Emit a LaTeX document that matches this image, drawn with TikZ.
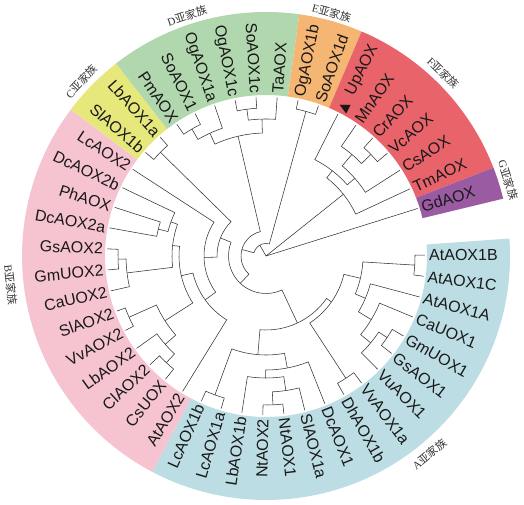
\documentclass[tikz,border=0pt]{standalone}
\usepackage{fontspec}
\setmainfont{Liberation Sans}
\newfontfamily\cjkf{Noto Sans CJK SC}
\newfontfamily\serifL{Liberation Serif}
\newfontfamily\dvs{DejaVu Sans}
\definecolor{cA}{HTML}{BDDDE4}
\definecolor{cB}{HTML}{F6C4D0}
\definecolor{cC}{HTML}{E6E87C}
\definecolor{cD}{HTML}{B1D7AE}
\definecolor{cE}{HTML}{F5B573}
\definecolor{cF}{HTML}{E8636A}
\definecolor{cG}{HTML}{9B5BA3}
% band: colour, start angle, end angle
\newcommand{\band}[3]{\fill[#1] (#2:161pt) arc[start angle=#2,end angle=#3,radius=161pt] -- (#3:244pt) arc[start angle=#3,end angle=#2,radius=244pt] -- cycle;}
% leaves on right / left half
\newcommand{\leafR}[3]{\coordinate (#1) at (#2:159pt);\node[lab,anchor=west,rotate=#2] (#1t) at (#2:163pt) {#3};}
\newcommand{\leafL}[3]{\coordinate (#1) at (#2:159pt);\node[lab,anchor=east,rotate={#2+180}] (#1t) at (#2:163pt) {#3};}
% internal node: radius, angle1, child1, angle2, child2
\newcommand{\tn}[5]{\draw[br] (#3) -- (#2:#1pt) arc[start angle=#2,end angle=#4,radius=#1pt] -- (#5);}
\begin{document}
\begin{tikzpicture}[x=1pt,y=1pt,
  br/.style={line width=0.55pt,draw=black!80,line join=miter},
  lab/.style={font=\fontsize{16}{16}\selectfont,inner sep=0pt,text height=11.5pt,text depth=0pt,text=black!90},
  grp/.style={font=\fontsize{11}{11}\selectfont,inner sep=0pt,text=black!80}]
\useasboundingbox (0,0) rectangle (524,505);
\begin{scope}[shift={(266,249)}]
% ---- coloured bands ----
\band{cA}{-117.81}{4.11}
\band{cB}{-216.87}{-117.81}
\band{cC}{-232.11}{-216.87}
\band{cD}{-277.83}{-232.11}
\band{cE}{-293.07}{-277.83}
\band{cF}{-338.79}{-293.07}
\band{cG}{-346.41}{-338.79}
% ---- leaves ----
\leafR{L0}{0.30}{AtAOX1B}
\leafR{L1}{-7.32}{AtAOX1C}
\leafR{L2}{-14.94}{AtAOX1A}
\leafR{L3}{-22.56}{CaUOX1}
\leafR{L4}{-30.18}{GmUOX1}
\leafR{L5}{-37.80}{GsAOX1}
\leafR{L6}{-45.42}{VuAOX1}
\leafR{L7}{-53.04}{VvAOX1a}
\leafR{L8}{-60.66}{DhAOX1b}
\leafR{L9}{-68.28}{DcAOX1}
\leafR{L10}{-75.90}{SlAOX1a}
\leafR{L11}{-83.52}{NtAOX1}
\leafL{L12}{-91.14}{NtAOX2}
\leafL{L13}{-98.76}{LbAOX1b}
\leafL{L14}{-106.38}{LcAOX1a}
\leafL{L15}{-114.00}{LcAOX1b}
\leafL{L16}{-121.62}{AtAOX2}
\leafL{L17}{-129.24}{CsUOX}
\leafL{L18}{-136.86}{ClAOX2}
\leafL{L19}{-144.48}{LbAOX2}
\leafL{L20}{-152.10}{VvAOX2}
\leafL{L21}{-159.72}{SlAOX2}
\leafL{L22}{-167.34}{CaUOX2}
\leafL{L23}{-174.96}{GmUOX2}
\leafL{L24}{-182.58}{GsAOX2}
\leafL{L25}{-190.20}{DcAOX2a}
\leafL{L26}{-197.82}{PhAOX}
\leafL{L27}{-205.44}{DcAOX2b}
\leafL{L28}{-213.06}{LcAOX2}
\leafL{L29}{-220.68}{SlAOX1b}
\leafL{L30}{-228.30}{LbAOX1a}
\leafL{L31}{-235.92}{PmAOX}
\leafL{L32}{-243.54}{SoAOX1}
\leafL{L33}{-251.16}{OgAOX1a}
\leafL{L34}{-258.78}{OgAOX1c}
\leafL{L35}{-266.40}{SoAOX1c}
\leafR{L36}{-274.02}{TaAOX}
\leafR{L37}{-281.64}{OgAOX1b}
\leafR{L38}{-289.26}{SoAOX1d}
\leafR{L39}{-296.88}{{\dvs\fontsize{13}{13}\selectfont ▲}\hspace{9pt}UpAOX}
\leafR{L40}{-304.50}{MnAOX}
\leafR{L41}{-312.12}{CrAOX}
\leafR{L42}{-319.74}{VcAOX}
\leafR{L43}{-327.36}{CsAOX}
\leafR{L44}{-334.98}{TmAOX}
\leafR{L45}{-342.60}{GdAOX}
% ---- internal nodes ----
\coordinate (root) at (0,0);
\coordinate (nBC) at (-3.51:149pt);
\coordinate (nGG1) at (-33.99:146pt);
\coordinate (nN4) at (-39.705:136pt);
\coordinate (nN3) at (-31.13:123pt);
\coordinate (nN2) at (-23.04:108pt);
\coordinate (nN1) at (-13.27:97pt);
\coordinate (nVD) at (-56.85:146pt);
\coordinate (nA1) at (-35.06:80pt);
\coordinate (nNN) at (-87.33:149pt);
\coordinate (nNS) at (-81.61:136pt);
\coordinate (nK) at (-90.19:122pt);
\coordinate (nM) at (-79.23:114pt);
\coordinate (nL) at (-110.19:148pt);
\coordinate (nA2) at (-94.71:99pt);
\coordinate (nA) at (-64.88:74pt);
\coordinate (nSV) at (-155.91:150pt);
\coordinate (nCC) at (-133.05:146pt);
\coordinate (nQ2) at (-138.77:134pt);
\coordinate (nQ) at (-147.34:120pt);
\coordinate (nGG) at (-178.77:148pt);
\coordinate (nGC) at (-173.06:140pt);
\coordinate (nPD2) at (-194.01:111pt);
\coordinate (nPD) at (-199.73:101pt);
\coordinate (nS) at (-186.40:94pt);
\coordinate (nR) at (-166.87:87pt);
\coordinate (nP) at (-144.25:75pt);
\coordinate (nU) at (-178.66:62pt);
\coordinate (nC) at (-224.49:148pt);
\coordinate (nV) at (-201.58:49pt);
\coordinate (nW) at (-133.23:37.5pt);
\coordinate (nPS) at (-239.73:147pt);
\coordinate (nD1) at (-245.45:135pt);
\coordinate (nOO) at (-262.59:148pt);
\coordinate (nD2) at (-268.31:137pt);
\coordinate (nD) at (-256.88:123pt);
\coordinate (nZ) at (-195.06:25pt);
\coordinate (nE) at (-285.45:150pt);
\coordinate (nY) at (-240.26:12.5pt);
\coordinate (nF4) at (-315.93:146pt);
\coordinate (nF3) at (-310.22:133pt);
\coordinate (nF2) at (-318.79:118pt);
\coordinate (nF1) at (-307.84:108pt);
\coordinate (nF) at (-321.41:99pt);
% ---- branches ----
\draw[br] (root) -- (nY);
\draw[br] (root) -- (nF);
\draw[br] (root) -- (L45);
\tn{12.5}{-195.06}{nZ}{-285.45}{nE}
\tn{25}{-133.23}{nW}{-256.88}{nD}
\tn{37.5}{-64.88}{nA}{-201.58}{nV}
\tn{49}{-178.66}{nU}{-224.49}{nC}
\tn{62}{-144.25}{nP}{-213.06}{L28}
\tn{75}{-121.62}{L16}{-166.87}{nR}
\tn{87}{-147.34}{nQ}{-186.40}{nS}
\tn{120}{-138.77}{nQ2}{-155.91}{nSV}
\tn{134}{-133.05}{nCC}{-144.48}{L19}
\tn{146}{-129.24}{L17}{-136.86}{L18}
\tn{150}{-152.10}{L20}{-159.72}{L21}
\tn{94}{-173.06}{nGC}{-199.73}{nPD}
\tn{140}{-167.34}{L22}{-178.77}{nGG}
\tn{148}{-174.96}{L23}{-182.58}{L24}
\tn{101}{-194.01}{nPD2}{-205.44}{L27}
\tn{111}{-190.20}{L25}{-197.82}{L26}
\tn{148}{-220.68}{L29}{-228.30}{L30}
\tn{74}{-35.06}{nA1}{-94.71}{nA2}
\tn{80}{-13.27}{nN1}{-56.85}{nVD}
\tn{97}{-3.51}{nBC}{-23.04}{nN2}
\tn{149}{0.30}{L0}{-7.32}{L1}
\tn{108}{-14.94}{L2}{-31.13}{nN3}
\tn{123}{-22.56}{L3}{-39.705}{nN4}
\tn{136}{-33.99}{nGG1}{-45.42}{L6}
\tn{146}{-30.18}{L4}{-37.80}{L5}
\tn{146}{-53.04}{L7}{-60.66}{L8}
\tn{99}{-79.23}{nM}{-110.19}{nL}
\tn{114}{-68.28}{L9}{-90.19}{nK}
\tn{122}{-81.61}{nNS}{-98.76}{L13}
\tn{136}{-75.90}{L10}{-87.33}{nNN}
\tn{149}{-83.52}{L11}{-91.14}{L12}
\tn{148}{-106.38}{L14}{-114.00}{L15}
\tn{123}{-245.45}{nD1}{-268.31}{nD2}
\tn{135}{-239.73}{nPS}{-251.16}{L33}
\tn{147}{-235.92}{L31}{-243.54}{L32}
\tn{137}{-262.59}{nOO}{-274.02}{L36}
\tn{148}{-258.78}{L34}{-266.40}{L35}
\tn{150}{-281.64}{L37}{-289.26}{L38}
\tn{99}{-307.84}{nF1}{-334.98}{L44}
\tn{108}{-296.88}{L39}{-318.79}{nF2}
\tn{118}{-310.22}{nF3}{-327.36}{L43}
\tn{133}{-304.50}{L40}{-315.93}{nF4}
\tn{146}{-312.12}{L41}{-319.74}{L42}
% ---- group labels ----
\node[grp,rotate=39.5] (gA) at (-50.5:257pt) {{\serifL A}{\cjkf 亚家族}};
\node[grp,rotate=-83.5] (gB) at (-173.6:257pt) {{\serifL B}{\cjkf 亚家族}};
\node[grp,rotate=46.6] (gC) at (136.6:254pt) {{\serifL C}{\cjkf 亚家族}};
\node[grp,rotate=18.2] (gD) at (108.2:253pt) {{\serifL D}{\cjkf 亚家族}};
\node[grp,rotate=-15.1] (gE) at (74.9:252pt) {{\serifL E}{\cjkf 亚家族}};
\node[grp,rotate=-44.1] (gF) at (45.9:255pt) {{\serifL F}{\cjkf 亚家族}};
\node[grp,rotate=-72.6] (gG) at (17.4:254pt) {{\serifL G}{\cjkf 亚家族}};
\end{scope}
\end{tikzpicture}
\end{document}
